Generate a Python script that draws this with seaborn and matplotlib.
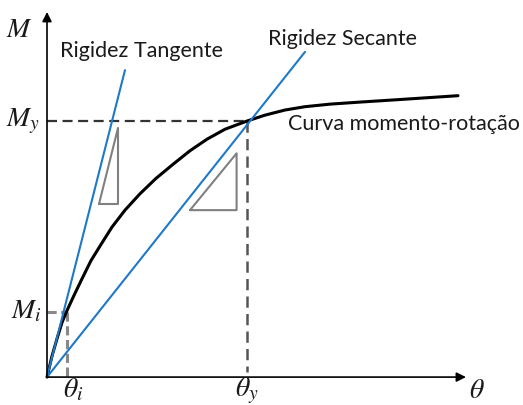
import matplotlib
matplotlib.use("Agg")
import matplotlib.pyplot as plt
import seaborn as sns

sns.set_theme(style="white")
plt.rcParams["font.family"] = ["Lato", "DejaVu Sans"]
plt.rcParams["mathtext.fontset"] = "stix"

# Moment-rotation curve (rotation theta, moment M), normalised to the yield point
theta_curve = [0.0, 0.025, 0.05, 0.075, 0.10, 0.135, 0.175, 0.22, 0.27, 0.325,
               0.39, 0.465, 0.545, 0.63, 0.715, 0.80, 0.89, 1.0, 1.09, 1.19,
               1.29, 1.415, 1.565, 1.765, 2.055]
m_curve = [0.0, 0.082, 0.150, 0.213, 0.260, 0.319, 0.384, 0.455, 0.518, 0.586,
           0.652, 0.716, 0.776, 0.831, 0.884, 0.929, 0.968, 1.0, 1.023, 1.043,
           1.056, 1.066, 1.074, 1.084, 1.099]

# Key points
theta_i, m_i = 0.10, 0.255
theta_y, m_y = 1.0, 1.0

# Stiffness lines (start, end)
tangent_theta = [0.0, 0.39]
tangent_m = [0.0, 1.199]
secant_theta = [0.0, 1.29]
secant_m = [0.0, 1.27]

# Slope triangles
tri_tan_theta = [0.26, 0.355, 0.355, 0.26]
tri_tan_m = [0.676, 0.676, 0.973, 0.676]
tri_sec_theta = [0.715, 0.948, 0.948, 0.715]
tri_sec_m = [0.652, 0.652, 0.874, 0.652]

blue = "#1f78c8"
grey = "#808080"

fig = plt.figure(figsize=(5.23, 4.05), dpi=100)
ax = fig.add_axes([0, 0, 1, 1])
ax.set_xlim(-0.235, 2.38)
ax.set_ylim(-0.109, 1.4727)
ax.axis("off")

# Reference dashed lines
ax.plot([0, theta_y], [m_y, m_y], color="#333333", lw=1.6, ls=(0, (4.5, 2.5)))
ax.plot([theta_y, theta_y], [m_y, 0.02], color="#555555", lw=1.8, ls=(0, (4.5, 2.5)))
ax.plot([0, theta_i], [m_i, m_i], color="#888888", lw=2.2, ls=(0, (3, 1.5)))
ax.plot([theta_i, theta_i], [m_i, 0.0], color="#888888", lw=2.2, ls=(0, (3, 1.5)))

line_kw = dict(sort=False, estimator=None, ax=ax)

# Slope triangles
sns.lineplot(x=tri_tan_theta, y=tri_tan_m, color=grey, lw=1.5, **line_kw)
sns.lineplot(x=tri_sec_theta, y=tri_sec_m, color=grey, lw=1.5, **line_kw)

# Curve and stiffness lines
sns.lineplot(x=theta_curve, y=m_curve, color="black", lw=2.2,
             solid_joinstyle="round", solid_capstyle="round", **line_kw)
sns.lineplot(x=tangent_theta, y=tangent_m, color=blue, lw=1.5, **line_kw)
sns.lineplot(x=secant_theta, y=secant_m, color=blue, lw=1.5, **line_kw)

# Axes with arrow heads
arrow = dict(arrowstyle="-|>", color="black", lw=1.2, mutation_scale=14,
             shrinkA=0, shrinkB=0)
ax.annotate("", xy=(2.095, 0), xytext=(0, 0), arrowprops=arrow)
ax.annotate("", xy=(0, 1.426), xytext=(0, 0), arrowprops=arrow)

# Labels
txt = dict(color="#1a1a1a", fontsize=15.5)
ax.text(0.065, 1.25, "Rigidez Tangente", va="baseline", ha="left", **txt)
ax.text(1.105, 1.297, "Rigidez Secante", va="baseline", ha="left", **txt)
ax.text(1.205, 0.965, "Curva momento-rotação", va="baseline", ha="left", **txt)

mt = dict(color="#1a1a1a", fontsize=20)
ax.text(-0.07, 1.36, r"$M$", ha="right", va="center", **mt)
ax.text(-0.035, 1.0, r"$M_y$", ha="right", va="center", **mt)
ax.text(-0.025, 0.26, r"$M_i$", ha="right", va="center", **mt)
ax.text(0.13, 0.004, r"$\theta_i$", ha="center", va="top", **mt)
ax.text(theta_y, 0.004, r"$\theta_y$", ha="center", va="top", **mt)
ax.text(2.15, 0.0, r"$\theta$", ha="center", va="top", **mt)

fig.savefig("out.png", dpi=100)
